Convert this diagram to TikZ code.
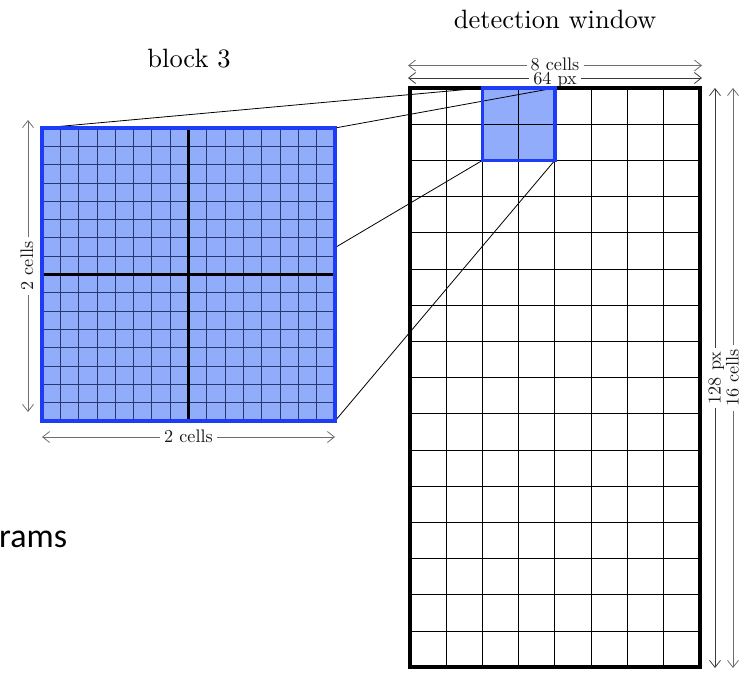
\documentclass[tikz,border=0pt]{standalone}
\usepackage{fontspec}
\newfontfamily\calibrifont{Carlito}
\usetikzlibrary{arrows.meta}
\definecolor{blockfill}{RGB}{145,172,250}
\definecolor{blockedge}{RGB}{30,60,245}
\definecolor{subline}{RGB}{40,55,110}
\definecolor{cellarrow}{RGB}{110,110,110}
\definecolor{pxarrow}{RGB}{60,60,60}
\definecolor{labeltext}{RGB}{25,25,25}
\newcommand{\bigtxt}[1]{\scalebox{2.65}{\fontsize{10}{12}\selectfont #1}}
\newcommand{\dimtxt}[1]{\scalebox{1.82}{\fontsize{10}{12}\selectfont #1}}
\pgfdeclarelayer{back}
\pgfdeclarelayer{front}
\pgfsetlayers{back,main,front}
\begin{document}
\begin{tikzpicture}[x=1pt,y=-1pt,
  titletext/.style={inner sep=0pt, anchor=base},
  dimlabel/.style={text=labeltext, inner xsep=4pt, inner ysep=0pt},
  tipL/.style={{Straight Barb[length=7pt,width=11pt]}-},
  tipR/.style={-{Straight Barb[length=7pt,width=11pt]}},
  dimcell/.style={draw=cellarrow, line width=0.8pt},
  dimpx/.style={draw=pxarrow, line width=0.8pt},
  gridline/.style={draw=black, line width=0.8pt},
  subgrid/.style={draw=subline, line width=0.8pt},
  connector/.style={draw=black, line width=0.8pt},
]
\useasboundingbox (0,0) rectangle (744,672);

% ---------- detection window grid ----------
\begin{pgfonlayer}{back}
  \node[fill=blockfill, minimum width=72.4pt, minimum height=72.4pt, inner sep=0pt, outer sep=0pt] (blk) at (518.6,124.2) {};
  \foreach \i in {1,...,7} \draw[gridline] ({410+\i*36.2},88) -- ({410+\i*36.2},667.2);
  \foreach \j in {1,...,15} \draw[gridline] (410,{88+\j*36.2}) -- (699.6,{88+\j*36.2});
\end{pgfonlayer}
\begin{pgfonlayer}{front}
  \node[draw=black, line width=3.8pt, minimum width=289.6pt, minimum height=579.2pt, inner sep=0pt, outer sep=0pt] (win) at (554.8,377.6) {};
  \draw[draw=blockedge, line width=3.5pt] (blk.south west) rectangle (blk.north east);
\end{pgfonlayer}

% ---------- block 3 (zoomed) ----------
\begin{pgfonlayer}{front}
  \node[fill=blockfill, minimum width=293pt, minimum height=293pt, inner sep=0pt, outer sep=0pt] (big) at (188.5,274.5) {};
  \foreach \i in {1,...,15} {
    \draw[subgrid] ({42+\i*293/16},128) -- ({42+\i*293/16},421);
    \draw[subgrid] (42,{128+\i*293/16}) -- (335,{128+\i*293/16});
  }
  \draw[draw=black, line width=2.4pt] (big.north) -- (big.south);
  \draw[draw=black, line width=2.4pt] (big.west) -- (big.east);
  \draw[draw=blockedge, line width=3.5pt] (big.south west) rectangle (big.north east);
\end{pgfonlayer}

% ---------- connectors ----------
\draw[connector] (big.north west) -- (blk.north west);
\draw[connector] (big.north east) -- (blk.north east);
\draw[connector] (big.south west) -- (blk.south west);
\draw[connector] (big.south east) -- (blk.south east);

% ---------- titles ----------
\node[titletext] (ttl) at (555,28) {\bigtxt{detection window}};
\node[titletext] (btl) at (189,67) {\bigtxt{block 3}};

% ---------- dimension arrows ----------
\coordinate (c8a) at (408,65.5);   \coordinate (c8b) at (702,65.5);
\coordinate (p64a) at (408,78);  \coordinate (p64b) at (702,78);
\coordinate (l2a) at (28,412);   \coordinate (l2b) at (28,120);
\coordinate (b2a) at (42,437);   \coordinate (b2b) at (335,437);
\coordinate (r128a) at (715,668); \coordinate (r128b) at (715,88);
\coordinate (r16a) at (733,668);  \coordinate (r16b) at (733,88);

\node[dimlabel, anchor=base] (t8) at (555,70.5) {\dimtxt{8 cells}};
\node[dimlabel, anchor=base] (t64) at (555,84.5) {\dimtxt{64 px}};
\node[dimlabel, anchor=base, rotate=90] (tl2) at (33,266) {\dimtxt{2 cells}};
\node[dimlabel, anchor=base] (tb2) at (188.5,442.5) {\dimtxt{2 cells}};
\node[dimlabel, anchor=base, rotate=90] (t128) at (720.5,378) {\dimtxt{128 px}};
\node[dimlabel, anchor=base, rotate=90] (t16) at (738.5,378) {\dimtxt{16 cells}};

\draw[dimcell, tipL] (c8a) -- (t8.west |- c8a);
\draw[dimcell, tipR] (t8.east |- c8b) -- (c8b);
\draw[dimpx, tipL] (p64a) -- (t64.west |- p64a);
\draw[dimpx, tipR] (t64.east |- p64b) -- (p64b);
\draw[dimcell, tipL] (l2a) -- (l2a |- tl2.west);
\draw[dimcell, tipR] (l2b |- tl2.east) -- (l2b);
\draw[dimcell, tipL] (b2a) -- (tb2.west |- b2a);
\draw[dimcell, tipR] (tb2.east |- b2b) -- (b2b);
\draw[dimpx, tipL] (r128a) -- (r128a |- t128.west);
\draw[dimpx, tipR] (r128b |- t128.east) -- (r128b);
\draw[dimcell, tipL] (r16a) -- (r16a |- t16.west);
\draw[dimcell, tipR] (r16b |- t16.east) -- (r16b);

% ---------- cut-off slide text ----------
\node[font=\calibrifont\fontsize{34}{38}\selectfont, inner sep=0pt, anchor=base west] (rams) at (-1,547) {rams};
\end{tikzpicture}
\end{document}
